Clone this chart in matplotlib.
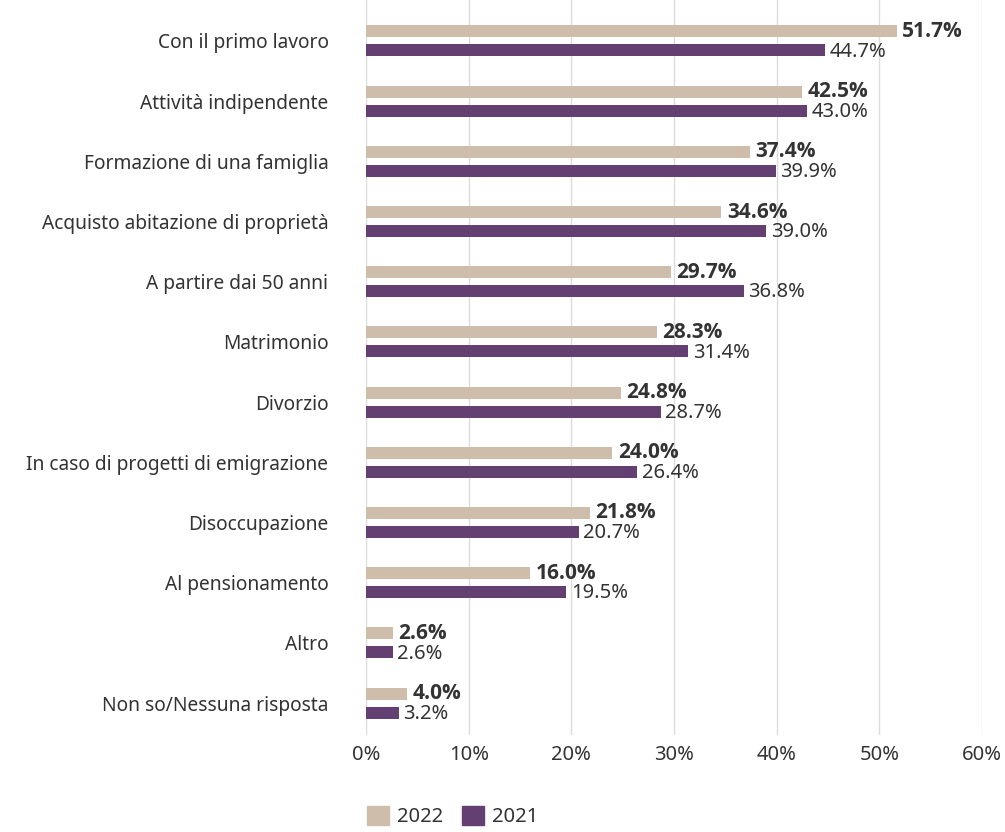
import matplotlib

matplotlib.use("Agg")

import matplotlib.pyplot as plt  # noqa: E402
import numpy as np  # noqa: E402
from matplotlib.patches import Patch  # noqa: E402

categories = [
    "Con il primo lavoro",
    "Attività indipendente",
    "Formazione di una famiglia",
    "Acquisto abitazione di proprietà",
    "A partire dai 50 anni",
    "Matrimonio",
    "Divorzio",
    "In caso di progetti di emigrazione",
    "Disoccupazione",
    "Al pensionamento",
    "Altro",
    "Non so/Nessuna risposta",
]
values_2022 = [51.7, 42.5, 37.4, 34.6, 29.7, 28.3, 24.8, 24.0, 21.8, 16.0, 2.6, 4.0]
values_2021 = [44.7, 43.0, 39.9, 39.0, 36.8, 31.4, 28.7, 26.4, 20.7, 19.5, 2.6, 3.2]
x_ticks = [0, 10, 20, 30, 40, 50, 60]

COLOR_2022 = "#cdbdaa"
COLOR_2021 = "#633f72"
TEXT = "#333333"
FONT = ["Noto Sans", "DejaVu Sans"]
BOLD_FONT = ["Open Sans", "DejaVu Sans"]

plt.rcParams["font.family"] = FONT

W, H = 1005, 832
fig = plt.figure(figsize=(W / 100, H / 100), dpi=100)
ax = fig.add_axes([366 / W, 1 - 735 / H, 616 / W, 735 / H])

y = np.arange(len(categories))
offset = 0.158
height = 0.2

ax.barh(y - offset, values_2022, height=height, color=COLOR_2022, zorder=2)
ax.barh(y + offset, values_2021, height=height, color=COLOR_2021, zorder=2)

# bold labels for the current year, regular for the previous one
for yi, v in zip(y, values_2022):
    ax.text(v + 0.55, yi - offset, f"{v:.1f}%", va="center", ha="left",
            fontsize=15, fontweight="bold", family=BOLD_FONT, color=TEXT)
for yi, v in zip(y, values_2021):
    ax.text(v + 0.45, yi + offset + 0.02, f"{v:.1f}%", va="center", ha="left",
            fontsize=14.5, color=TEXT)

ax.set_xlim(0, 60)
ax.set_ylim(11.53, -0.68)
ax.set_xticks(x_ticks)
ax.set_xticklabels([f"{t}%" for t in x_ticks], fontsize=14.5, color=TEXT)
ax.set_yticks(y)
ax.set_yticklabels(categories, fontsize=13.8, color=TEXT)
ax.tick_params(axis="both", length=0)
ax.tick_params(axis="y", pad=27)
ax.tick_params(axis="x", pad=7)
ax.grid(axis="x", color="#dcdcdc", linewidth=1, zorder=0)
for spine in ax.spines.values():
    spine.set_visible(False)

handles = [Patch(color=COLOR_2022, label="2022"), Patch(color=COLOR_2021, label="2021")]
fig.legend(handles=handles, loc="lower left", bbox_to_anchor=(349 / W, -0.016),
           ncol=2, frameon=False, fontsize=14.5, handlelength=1.1, handleheight=1.1,
           handletextpad=0.4, columnspacing=0.9, labelcolor=TEXT)

fig.savefig("out.png", dpi=100)
